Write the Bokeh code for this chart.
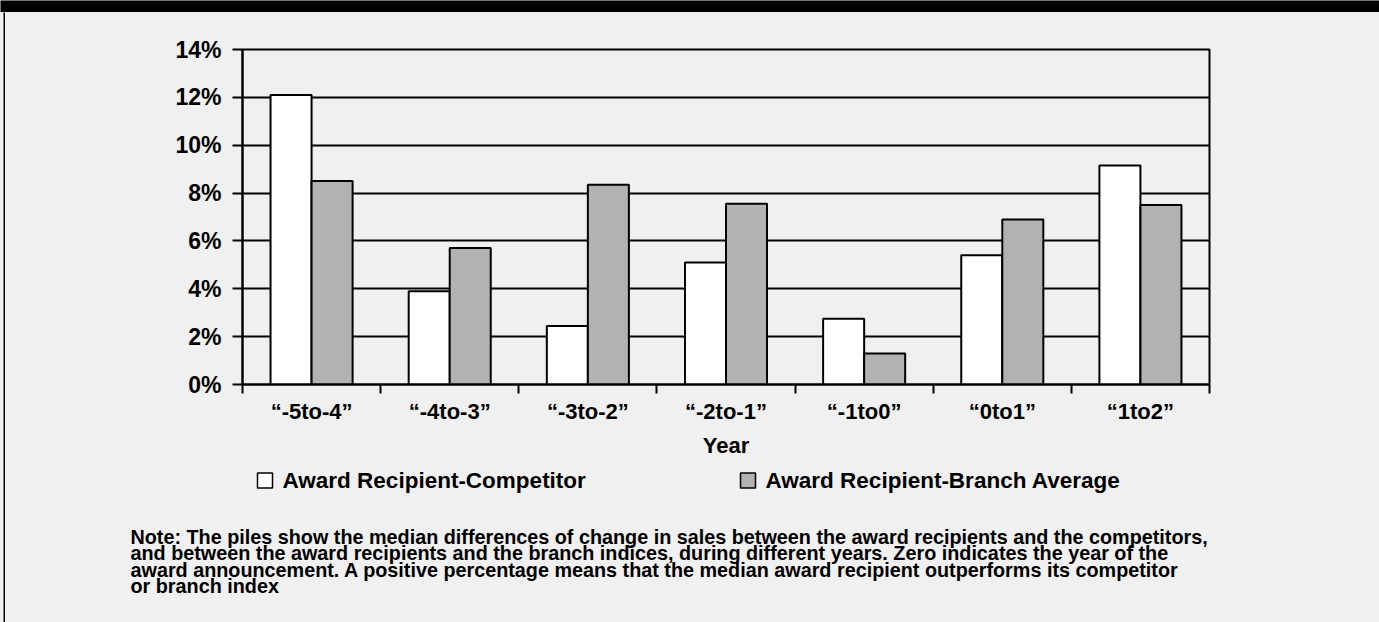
from bokeh.plotting import figure
from bokeh.layouts import column, row
from bokeh.models import Range1d, FixedTicker, PrintfTickFormatter
from bokeh.core.properties import value
from bokeh.embed import file_html
from bokeh.resources import INLINE

categories = ["\u201c-5to-4\u201d", "\u201c-4to-3\u201d", "\u201c-3to-2\u201d", "\u201c-2to-1\u201d",
              "\u201c-1to0\u201d", "\u201c0to1\u201d", "\u201c1to2\u201d"]
competitor = [12.1, 3.9, 2.45, 5.1, 2.75, 5.4, 9.15]
branch = [8.5, 5.7, 8.35, 7.55, 1.3, 6.9, 7.5]
y_ticks = [0, 2, 4, 6, 8, 10, 12, 14]
series_names = ["Award Recipient-Competitor", "Award Recipient-Branch Average"]
x_title = "Year"
note_lines = [
    "Note: The piles show the median differences of change in sales between the award recipients and the competitors,",
    "and between the award recipients and the branch indices, during different years. Zero indicates the year of the",
    "award announcement. A positive percentage means that the median award recipient outperforms its competitor",
    "or branch index",
]

FONT = "Liberation Sans"
BG = "#f0f0f0"
GRAY = "#b2b2b2"
W, H = 1379, 622
TOP = 12      # black band height
STRIP = 5     # left strip width (black rule at 3..5)
MAIN_H = 453
BOT_H = H - TOP - MAIN_H
INNER_W = W - STRIP


def blank(width, height, **kw):
    f = figure(width=width, height=height, output_backend="svg", toolbar_location=None,
               x_axis_location=None, y_axis_location=None,
               min_border_left=0, min_border_right=0, min_border_top=0, min_border_bottom=0, **kw)
    f.outline_line_color = None
    f.xgrid.visible = False
    f.ygrid.visible = False
    f.frame_align = False
    return f


# black band at the top
top = blank(W, TOP)
top.background_fill_color = "black"
top.border_fill_color = "black"

# left strip with a thin black rule
strip = blank(STRIP, H - TOP)
strip.min_border_left = 3
strip.background_fill_color = "black"
strip.border_fill_color = BG

# main chart
p = figure(width=INNER_W, height=MAIN_H, x_range=Range1d(0, 7), y_range=Range1d(0, 14),
           output_backend="svg", toolbar_location=None,
           min_border_left=237, min_border_right=170, min_border_top=37, min_border_bottom=MAIN_H - 372)
p.frame_align = False
p.background_fill_color = BG
p.border_fill_color = BG
p.outline_line_color = "black"
p.outline_line_width = 2

centers = [i + 0.5 for i in range(len(categories))]
off = 0.1485
bw = 0.297
p.vbar(x=[c - off for c in centers], top=competitor, width=bw, bottom=0,
       fill_color="white", line_color="black", line_width=2)
p.vbar(x=[c + off for c in centers], top=branch, width=bw, bottom=0,
       fill_color=GRAY, line_color="black", line_width=2)

p.yaxis.ticker = FixedTicker(ticks=y_ticks, minor_ticks=[])
p.yaxis.formatter = PrintfTickFormatter(format="%d%%")
p.yaxis.major_tick_out = 10
p.yaxis.major_tick_in = 0
p.yaxis.major_tick_line_width = 2
p.yaxis.axis_line_width = 2
p.yaxis.major_label_standoff = 11
p.yaxis.major_label_text_font = FONT
p.yaxis.major_label_text_font_style = "bold"
p.yaxis.major_label_text_font_size = "23px"
p.yaxis.major_label_text_color = "black"

p.xaxis.ticker = FixedTicker(ticks=centers, minor_ticks=list(range(len(categories) + 1)))
p.xaxis.major_label_overrides = {c: lab for c, lab in zip(centers, categories)}
p.xaxis.major_tick_line_color = None
p.xaxis.major_tick_out = 0
p.xaxis.major_tick_in = 0
p.xaxis.minor_tick_out = 9
p.xaxis.minor_tick_in = 0
p.xaxis.minor_tick_line_width = 2
p.xaxis.axis_line_width = 2
p.xaxis.major_label_standoff = 5
p.xaxis.major_label_text_font = FONT
p.xaxis.major_label_text_font_style = "bold"
p.xaxis.major_label_text_font_size = "22px"
p.xaxis.major_label_text_color = "black"
p.xaxis.axis_label = x_title
p.xaxis.axis_label_standoff = 6
p.xaxis.axis_label_text_font = FONT
p.xaxis.axis_label_text_font_style = "bold"
p.xaxis.axis_label_text_font_size = "22px"
p.xaxis.axis_label_text_color = "black"

p.xgrid.grid_line_color = None
p.ygrid.grid_line_color = "black"
p.ygrid.grid_line_width = 2
p.ygrid.level = "underlay"

# bottom panel: legend and note, in pixel coordinates (y downwards)
b = blank(INNER_W, BOT_H, x_range=Range1d(0, INNER_W), y_range=Range1d(BOT_H, 0))
b.background_fill_color = BG
b.border_fill_color = BG

OX, OY = STRIP, TOP + MAIN_H   # canvas origin of the bottom panel
leg_x = [257 - OX, 740 - OX]
leg_y = 480 - OY
b.quad(left=[x for x in leg_x], right=[x + 15 for x in leg_x],
       top=[leg_y - 7.5] * 2, bottom=[leg_y + 7.5] * 2,
       fill_color=["white", GRAY], line_color="black", line_width=1.5)
b.text(x=[x + 25 for x in leg_x], y=[leg_y] * 2, text=series_names,
       text_font=value(FONT), text_font_style="bold", text_font_size="22.5px",
       text_align="left", text_baseline="middle", text_color="black")

b.text(x=[130 - OX] * len(note_lines), y=[536 - OY + i * 16.5 for i in range(len(note_lines))],
       text=note_lines, text_font=value(FONT), text_font_style="bold", text_font_size="19.8px",
       text_align="left", text_baseline="middle", text_color="black")

inner = column(p, b, spacing=0, styles={"background-color": BG})
mid = row(strip, inner, spacing=0, styles={"background-color": BG})
layout = column(top, mid, spacing=0, styles={"background-color": BG})
open("out.html", "w").write(file_html(layout, INLINE))
